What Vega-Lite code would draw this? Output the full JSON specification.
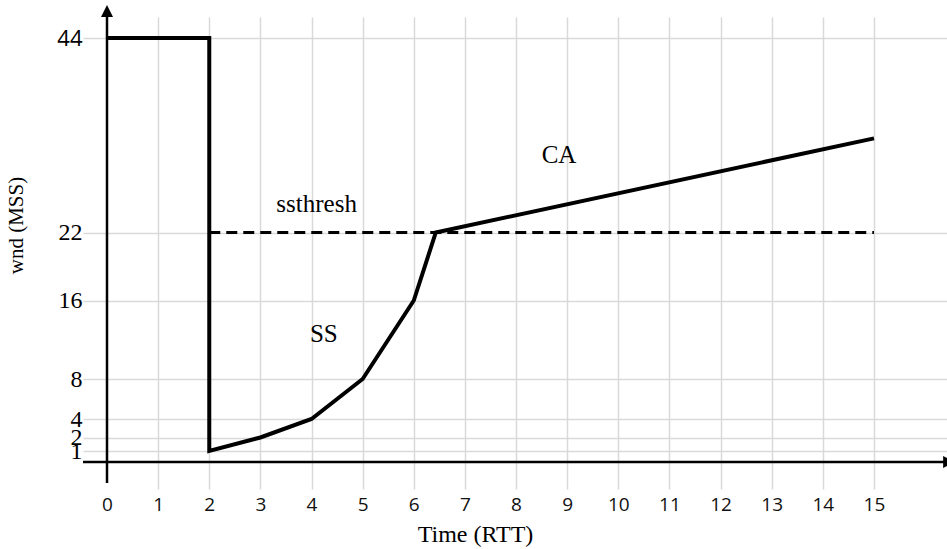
{
  "$schema": "https://vega.github.io/schema/vega-lite/v6.json",
  "autosize": {"type": "none"},
  "padding": {"left": 83, "top": 12, "right": 0, "bottom": 61},
  "width": 864,
  "height": 476,
  "config": {"view": {"stroke": null}},
  "datasets": {
    "cwnd": [
      {"i": 0, "t": 0, "w": 44},
      {"i": 1, "t": 2, "w": 44},
      {"i": 2, "t": 2, "w": 1},
      {"i": 3, "t": 3, "w": 2},
      {"i": 4, "t": 4, "w": 4},
      {"i": 5, "t": 5, "w": 8},
      {"i": 6, "t": 6, "w": 16},
      {"i": 7, "t": 6.43, "w": 22},
      {"i": 8, "t": 15, "w": 32.65}
    ],
    "ssthresh": [
      {"t": 2, "w": 22},
      {"t": 15, "w": 22}
    ],
    "labels": [
      {"t": 4.1, "w": 24.32, "label": "ssthresh"},
      {"t": 4.24, "w": 11.8, "label": "SS"},
      {"t": 8.84, "w": 29.83, "label": "CA"}
    ],
    "one": [{}]
  },
  "encoding": {
    "x": {
      "type": "quantitative",
      "scale": {"domain": [-0.4694, 16.428], "nice": false, "zero": false},
      "axis": {
        "values": [0,1,2,3,4,5,6,7,8,9,10,11,12,13,14,15],
        "title": "Time (RTT)",
        "titleFont": "Liberation Serif",
        "titleFontSize": 24,
        "titleFontWeight": "normal",
        "titleColor": "#000000",
        "titleX": 392,
        "titleY": 53,
        "titleBaseline": "alphabetic",
        "labelFont": "Open Sans",
        "labelFontSize": 19,
        "labelColor": "#111111",
        "labelPadding": 7,
        "labelOverlap": false,
        "labelFlush": false,
        "ticks": false,
        "domain": false,
        "grid": true,
        "gridColor": "#d9d9d9",
        "gridWidth": 1.5,
        "gridOpacity": {"condition": {"test": "datum.value == 0", "value": 0}, "value": 1}
      }
    },
    "y": {
      "type": "quantitative",
      "scale": {
        "domain": [-2, 0, 1, 2, 4, 8, 16, 22, 44, 47],
        "range": [471, 450, 439, 425.5, 407, 367, 288.5, 220.5, 26, -1],
        "nice": false,
        "zero": false
      },
      "axis": {
        "values": [1, 2, 4, 8, 16, 22, 44],
        "title": "wnd (MSS)",
        "titleFont": "Liberation Serif",
        "titleFontSize": 21,
        "titleFontWeight": "normal",
        "titleColor": "#000000",
        "titleAngle": -90,
        "titleAlign": "center",
        "titleBaseline": "alphabetic",
        "titleX": -61,
        "titleY": 213,
        "labelFont": {"condition": {"test": "datum.value == 44", "value": "Open Sans"}, "value": "Liberation Serif"},
        "labelFontSize": {"condition": {"test": "datum.value == 44", "value": 22}, "value": 24},
        "labelColor": "#000000",
        "labelPadding": 1,
        "labelBaseline": "middle",
        "labelOverlap": false,
        "labelFlush": false,
        "ticks": false,
        "domain": false,
        "grid": true,
        "gridColor": "#d9d9d9",
        "gridWidth": 1.5
      }
    }
  },
  "layer": [
    {
      "data": {"name": "ssthresh"},
      "mark": {"type": "line", "color": "#000000", "strokeWidth": 3, "strokeDash": [11, 6]},
      "encoding": {
        "x": {"field": "t", "type": "quantitative"},
        "y": {"field": "w", "type": "quantitative"}
      }
    },
    {
      "data": {"name": "cwnd"},
      "mark": {"type": "line", "color": "#000000", "strokeWidth": 4, "strokeJoin": "miter"},
      "encoding": {
        "x": {"field": "t", "type": "quantitative"},
        "y": {"field": "w", "type": "quantitative"},
        "order": {"field": "i", "type": "quantitative"}
      }
    },
    {
      "data": {"name": "one"},
      "mark": {"type": "rule", "color": "#000000", "strokeWidth": 2.5},
      "encoding": {
        "x": {"datum": 0, "type": "quantitative"},
        "y": {"datum": -2, "type": "quantitative"},
        "y2": {"datum": 47}
      }
    },
    {
      "data": {"name": "one"},
      "mark": {"type": "rule", "color": "#000000", "strokeWidth": 2.5},
      "encoding": {
        "y": {"datum": 0, "type": "quantitative"},
        "x": {"datum": -0.4694, "type": "quantitative"},
        "x2": {"datum": 16.47}
      }
    },
    {
      "data": {"name": "one"},
      "mark": {"type": "point", "shape": "M0,-1L1,1L-1,1Z", "filled": true, "color": "#000000", "opacity": 1, "size": 144},
      "encoding": {
        "x": {"datum": 0, "type": "quantitative"},
        "y": {"datum": 47, "type": "quantitative"}
      }
    },
    {
      "data": {"name": "one"},
      "mark": {"type": "point", "shape": "M-1,-1L1,0L-1,1Z", "filled": true, "color": "#000000", "opacity": 1, "size": 144},
      "encoding": {
        "x": {"datum": 16.47, "type": "quantitative"},
        "y": {"datum": 0, "type": "quantitative"}
      }
    },
    {
      "data": {"name": "labels"},
      "mark": {"type": "text", "font": "Liberation Serif", "fontSize": 25, "color": "#000000", "align": "center", "baseline": "alphabetic"},
      "encoding": {
        "x": {"field": "t", "type": "quantitative"},
        "y": {"field": "w", "type": "quantitative"},
        "text": {"field": "label"}
      }
    }
  ]
}
